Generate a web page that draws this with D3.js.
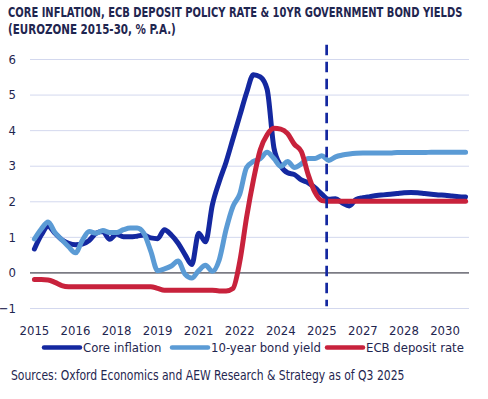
<!DOCTYPE html>
<html>
<head>
<meta charset="utf-8">
<script src="https://cdn.jsdelivr.net/npm/d3@7"></script>
<style>
  body { margin: 0; background: #fff; }
  svg text { font-family: "Liberation Sans Narrow", "DejaVu Sans Condensed", "Roboto Condensed", sans-serif; fill: #1f2650; }
</style>
</head>
<body>
<div id="chart"></div>
<script>
// quarterly data, 2015Q1 .. 2030Q4
const years = d3.range(2015, 2031)
const quarters = years.flatMap(y => [1, 2, 3, 4].map(q => y + "Q" + q))

const coreInflation = [
  0.66, 1.05, 1.3, 1.1, 0.92, 0.82, 0.78, 0.8,
  0.9, 1.1, 1.15, 0.93, 1.08, 1.0, 1.0, 1.02,
  1.05, 0.97, 0.95, 1.2, 1.05, 0.82, 0.5, 0.22,
  1.1, 0.86, 1.9, 2.55, 3.1, 3.75, 4.4, 5.05,
  5.56, 5.5, 5.15, 3.5, 3.0, 2.8, 2.75, 2.6,
  2.52, 2.38, 2.2, 2.06, 2.07, 1.95, 1.87, 2.05,
  2.1, 2.13, 2.16, 2.18, 2.2, 2.22, 2.24, 2.25,
  2.24, 2.22, 2.2, 2.18, 2.17, 2.15, 2.13, 2.12
]
const bondYield = [
  0.94, 1.22, 1.42, 1.12, 0.92, 0.72, 0.55, 0.9,
  1.15, 1.1, 1.18, 1.12, 1.12, 1.2, 1.25, 1.25,
  1.1, 0.6, 0.05, 0.1, 0.18, 0.32, -0.05, -0.16,
  0.05, 0.2, 0.03, 0.35, 1.2, 1.85, 2.2, 2.95,
  3.12, 3.2, 3.38, 3.2, 2.98, 3.12, 2.95, 3.05,
  3.2, 3.2, 3.28, 3.15, 3.25, 3.3, 3.33, 3.35,
  3.36, 3.36, 3.36, 3.36, 3.36, 3.37, 3.37, 3.37,
  3.37, 3.37, 3.38, 3.38, 3.38, 3.38, 3.38, 3.38
]
const depositRate = [
  -0.2, -0.2, -0.21, -0.28, -0.37, -0.4, -0.4, -0.4,
  -0.4, -0.4, -0.4, -0.4, -0.4, -0.4, -0.4, -0.4,
  -0.4, -0.4, -0.45, -0.5, -0.5, -0.5, -0.5, -0.5,
  -0.5, -0.5, -0.5, -0.52, -0.52, -0.45, 0.3, 1.55,
  2.6, 3.45, 3.87, 4.05, 4.03, 3.9, 3.6, 3.4,
  2.75, 2.25, 2.02, 2.0, 2.0, 2.0, 2.0, 2.0,
  2.0, 2.0, 2.0, 2.0, 2.0, 2.0, 2.0, 2.0,
  2.0, 2.0, 2.0, 2.0, 2.0, 2.0, 2.0, 2.0
]
const yTicks = [-1, 0, 1, 2, 3, 4, 5, 6]
const forecastStart = "2025Q4"

const series = [
  { label: "Core inflation", values: coreInflation, color: "#1428a0" },
  { label: "10-year bond yield", values: bondYield, color: "#5b9bd5" },
  { label: "ECB deposit rate", values: depositRate, color: "#c8223c" },
]

const width = 488, height = 399
const margin = { left: 31, right: 20, top: 59, bottom: 91 }
const inner_width = width - margin.left - margin.right
const inner_height = height - margin.top - margin.bottom

const svg = d3.select("#chart").append("svg")
  .attr("width", width)
  .attr("height", height)

/** squeezes a text horizontally so it spans the given width */
function fitText(sel, x, y, targetWidth) {
  const natural = sel.node().getComputedTextLength()
  const k = Math.min(1, targetWidth / natural)
  sel.attr("transform", `translate(${x},${y}) scale(${k},1)`)
}

// title
const title = svg.append("g").attr("font-weight", "bold").attr("font-size", 13.5)
title.append("text")
  .text("CORE INFLATION, ECB DEPOSIT POLICY RATE & 10YR GOVERNMENT BOND YIELDS")
  .call(fitText, 8, 17.3, 455)
title.append("text")
  .text("(EUROZONE 2015-30, % P.A.)")
  .call(fitText, 8, 34, 168)

const g = svg.append("g")
  .attr("transform", `translate(${margin.left},${margin.top})`)

const xScale = d3.scaleBand()
  .domain(quarters)
  .range([0, inner_width + 1])
const xMid = q => xScale(q) + xScale.bandwidth() / 2

const yScale = d3.scaleLinear()
  .domain([-1, 6])
  .range([inner_height, 0])

// y grid
g.append("g")
  .attr("class", "y axis-grid")
  .call(d3.axisLeft(yScale).tickValues(yTicks).tickSize(-inner_width - 2).tickFormat(() => ""))
  .call(s => s.select(".domain").remove())
  .call(s => s.selectAll("line")
    .attr("transform", "translate(-1,0)")
    .attr("stroke", d => d === 0 ? "#1a1a2a" : "#d3d8ee")
    .attr("stroke-width", 1))

// y labels
g.append("g")
  .call(d3.axisLeft(yScale).tickValues(yTicks).tickSize(0).tickPadding(15).tickFormat(d3.format("d")))
  .call(s => s.select(".domain").remove())
  .call(s => s.selectAll("text")
    .attr("font-size", 13)
    .attr("fill", "#1f2650"))

// x labels
g.append("g")
  .attr("transform", `translate(0,${inner_height})`)
  .call(d3.axisBottom(xScale)
    .tickValues(quarters.filter((_q, i) => i % 6 === 0))
    .tickFormat(q => q.slice(0, 4))
    .tickSize(0).tickPadding(18))
  .call(s => s.select(".domain").remove())
  .call(s => s.selectAll("text")
    .attr("font-size", 13)
    .attr("fill", "#1f2650"))

// lines
const line = d3.line()
  .x((_d, i) => xMid(quarters[i]))
  .y(d => yScale(d))
  .curve(d3.curveMonotoneX)

for (const s of series) {
  g.append("path")
    .datum(s.values)
    .attr("fill", "none")
    .attr("stroke", s.color)
    .attr("stroke-width", 5)
    .attr("stroke-linejoin", "round")
    .attr("stroke-linecap", "round")
    .attr("d", line)
}

// forecast marker
const xf = xScale(forecastStart) + xScale.bandwidth() * 0.2
g.append("line")
  .attr("x1", xf).attr("x2", xf)
  .attr("y1", yScale(6.4)).attr("y2", yScale(-0.95))
  .attr("stroke", "#1428a0")
  .attr("stroke-width", 2.7)
  .attr("stroke-dasharray", "10.5,6.5")

// legend
const legendX = [42, 170, 325]
const legend = svg.append("g")
series.forEach((s, i) => {
  const item = legend.append("g").attr("transform", `translate(${legendX[i]},347.5)`)
  item.append("line")
    .attr("x1", 2).attr("x2", 38)
    .attr("stroke", s.color)
    .attr("stroke-width", 4.5)
    .attr("stroke-linecap", "round")
  item.append("text")
    .attr("x", 41).attr("y", 4.5)
    .attr("font-size", 13)
    .text(s.label)
})

// source
svg.append("text")
  .attr("font-size", 13.5)
  .text("Sources: Oxford Economics and AEW Research & Strategy as of Q3 2025")
  .call(fitText, 11, 380, 394)
</script>
</body>
</html>
